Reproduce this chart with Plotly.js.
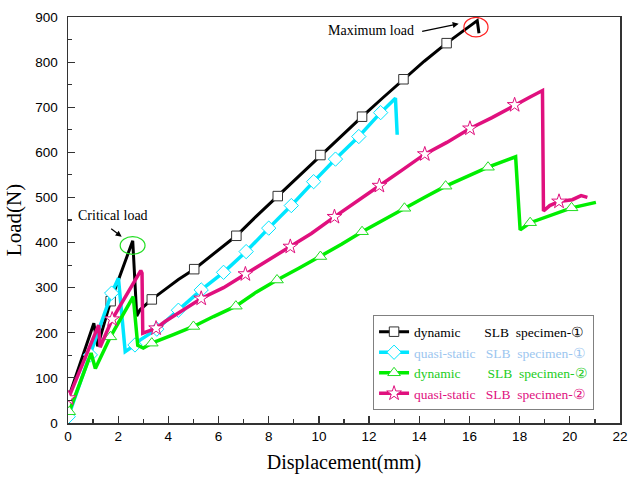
<!DOCTYPE html>
<html><head><meta charset="utf-8">
<script src="https://cdn.plot.ly/plotly-3.0.1.min.js"></script>
<style>html,body{margin:0;padding:0;background:#fff}</style>
</head><body><div id="chart" style="width:628px;height:478px"></div>
<script>
// dynamic SLB specimen-1
const dyn1X = [0.03, 1.03, 1.18, 1.70, 2.58, 2.74, 2.87, 3.34, 3.94, 4.40, 5.03, 5.80, 6.71, 7.50, 8.36, 9.20, 10.06, 10.90, 11.72, 12.55, 13.37, 14.20, 15.09, 15.80, 16.31, 16.38];
const dyn1Y = [58, 221, 170, 270, 404, 237, 251, 274, 299, 318, 341, 375, 415, 458, 503, 548, 594, 636, 679, 721, 762, 802, 842, 872, 892, 864];
const dyn1Marks = [3, 7, 10, 12, 14, 16, 18, 20, 22];
// quasi-static SLB specimen-1
const qs1X = [0.01, 0.89, 1.30, 1.74, 2.01, 2.28, 2.67, 2.87, 3.54, 4.40, 5.31, 6.20, 7.10, 8.00, 8.90, 9.79, 10.66, 11.59, 12.46, 13.05, 13.12];
const qs1Y = [14, 151, 215, 288, 321, 158, 173, 184, 208, 250, 295, 334, 380, 432, 482, 535, 585, 635, 688, 720, 639];
const qs1Marks = [0, 1, 3, 6, 8, 9, 10, 11, 12, 13, 14, 15, 16, 17, 18];
// dynamic SLB specimen-2
const dyn2X = [0.05, 0.92, 1.09, 1.69, 2.60, 2.78, 3.00, 3.34, 4.20, 5.00, 5.80, 6.69, 7.50, 8.33, 9.20, 10.06, 10.90, 11.72, 12.55, 13.41, 14.20, 15.05, 15.90, 16.74, 17.84, 18.02, 18.42, 19.20, 20.07, 21.04];
const dyn2Y = [25, 155, 121, 191, 280, 172, 166, 177, 196, 214, 236, 259, 290, 317, 343, 369, 396, 424, 450, 476, 500, 525, 546, 567, 590, 428, 444, 460, 477, 489];
const dyn2Marks = [0, 3, 7, 9, 11, 13, 15, 17, 19, 21, 23, 26, 28];
// quasi-static SLB specimen-2
const qs2X = [0.02, 1.22, 1.28, 1.76, 2.90, 2.95, 2.98, 3.51, 3.87, 4.50, 5.31, 6.20, 7.07, 8.00, 8.86, 9.70, 10.62, 11.50, 12.41, 13.30, 14.22, 15.10, 16.02, 16.90, 17.80, 18.40, 18.91, 18.95, 19.20, 19.57, 20.10, 20.45, 20.70];
const qs2Y = [55, 217, 168, 230, 338, 332, 199, 210, 225, 248, 276, 300, 330, 362, 391, 420, 457, 490, 526, 560, 596, 622, 653, 677, 705, 722, 737, 470, 482, 491, 495, 504, 500];
const qs2Marks = [0, 3, 7, 10, 12, 14, 16, 18, 20, 22, 24, 29];

const seriesNames = [
  'dynamic&nbsp;&nbsp;&nbsp;&nbsp;&nbsp;&nbsp;&nbsp;SLB&nbsp;&nbsp;specimen-①',
  'quasi-static&nbsp;&nbsp;&nbsp;SLB&nbsp;&nbsp;specimen-①',
  'dynamic&nbsp;&nbsp;&nbsp;&nbsp;&nbsp;&nbsp;&nbsp;&nbsp;SLB&nbsp;&nbsp;specimen-②',
  'quasi-static&nbsp;&nbsp;&nbsp;SLB&nbsp;&nbsp;specimen-②'
];
const xTitle = 'Displacement(mm)';
const yTitle = 'Load(N)';

const traces = [];
function addSeries(x, y, idx, color, mcolor, symbol, lw, ms, name, tcolor) {
  traces.push({x: x, y: y, mode: 'lines', line: {color: color, width: lw}, showlegend: false, hoverinfo: 'skip'});
  traces.push({x: idx.map(i => x[i]), y: idx.map(i => y[i]), mode: 'markers',
    marker: {symbol: symbol, size: ms, color: '#ffffff', line: {color: mcolor, width: 1}}, showlegend: false, hoverinfo: 'skip'});
  traces.push({x: [null], y: [null], mode: 'lines+markers', line: {color: color, width: lw},
    marker: {symbol: symbol, size: ms, color: '#ffffff', line: {color: mcolor, width: 1}},
    name: '<span style="color:' + tcolor + '">' + name + '</span>'});
}
addSeries(dyn1X, dyn1Y, dyn1Marks, '#000000', '#333333', 'square', 3, 9.5, seriesNames[0], '#000000');
addSeries(qs1X, qs1Y, qs1Marks, '#00e6ff', '#00e6ff', 'diamond', 3.5, 11, seriesNames[1], '#9cc6ef');
addSeries(dyn2X, dyn2Y, dyn2Marks, '#00ee00', '#22dd22', 'triangle-up', 3.5, 11, seriesNames[2], '#22cc22');
addSeries(qs2X, qs2Y, qs2Marks, '#e0107e', '#e0107e', 'star', 3.5, 11, seriesNames[3], '#e0107e');

const axisCommon = {
  showline: true, linecolor: '#333', linewidth: 1.5, mirror: true,
  ticks: 'inside', ticklen: 7, tickwidth: 1.2, tickcolor: '#333',
  showgrid: false, zeroline: false,
  tickfont: {family: 'Liberation Sans, Arial, sans-serif', size: 13.5, color: '#000'}
};

const layout = {
  width: 628, height: 478,
  margin: {l: 68, r: 8, t: 17, b: 55},
  paper_bgcolor: '#fff', plot_bgcolor: '#fff',
  showlegend: true,
  legend: {x: 0.953, xanchor: 'right', y: 0.148, yanchor: 'middle',
    bgcolor: '#fff', bordercolor: '#808080', borderwidth: 1,
    font: {family: 'Liberation Serif, Times New Roman, serif', size: 13.5, color: '#000'},
    tracegroupgap: 0},
  xaxis: Object.assign({}, axisCommon, {range: [0, 22], tick0: 0, dtick: 2,
    minor: {dtick: 1, ticks: 'inside', ticklen: 4, tickcolor: '#333', showgrid: false},
    title: {text: xTitle, font: {family: 'Liberation Serif, Times New Roman, serif', size: 20, color: '#000'}, standoff: 12}}),
  yaxis: Object.assign({}, axisCommon, {range: [0, 900], tick0: 0, dtick: 100,
    minor: {dtick: 50, ticks: 'inside', ticklen: 4, tickcolor: '#333', showgrid: false},
    ticklabelstandoff: 6,
    title: {text: yTitle, font: {family: 'Liberation Serif, Times New Roman, serif', size: 21, color: '#000'}, standoff: 8}}),
  annotations: [
    {x: 12.06, y: 871, xref: 'x', yref: 'y', text: 'Maximum load', showarrow: false,
      font: {family: 'Liberation Serif, Times New Roman, serif', size: 14, color: '#000'}},
    {x: 15.57, y: 885, xref: 'x', yref: 'y', text: '', showarrow: true, ax: -38, ay: 8,
      arrowhead: 2, arrowsize: 1, arrowwidth: 1.2, arrowcolor: '#000'},
    {x: 1.81, y: 459, xref: 'x', yref: 'y', text: 'Critical load', showarrow: false,
      font: {family: 'Liberation Serif, Times New Roman, serif', size: 14, color: '#000'}},
    {x: 2.14, y: 413, xref: 'x', yref: 'y', text: '', showarrow: true, ax: -12, ay: -9,
      arrowhead: 2, arrowsize: 1, arrowwidth: 1.2, arrowcolor: '#000'}
  ],
  shapes: [
    {type: 'circle', xref: 'x', yref: 'y', x0: 15.78, x1: 16.74, y0: 856, y1: 899, line: {color: '#ff2020', width: 1.2}},
    {type: 'circle', xref: 'x', yref: 'y', x0: 2.08, x1: 3.07, y0: 374, y1: 413, line: {color: '#22dd22', width: 1.2}}
  ]
};

Plotly.newPlot('chart', traces, layout, {displayModeBar: false, staticPlot: true});
</script></body></html>
